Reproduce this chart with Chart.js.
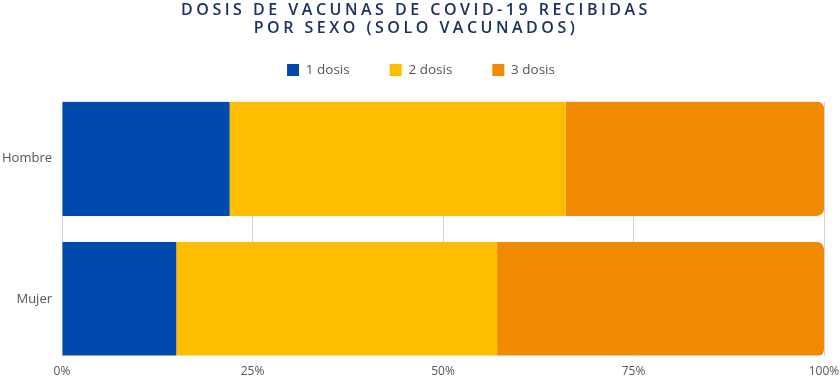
<!DOCTYPE html>
<html>
<head>
<meta charset="utf-8">
<script src="https://cdn.jsdelivr.net/npm/chart.js@4.4.1/dist/chart.umd.min.js"></script>
<style>
  html, body { margin: 0; padding: 0; background: #ffffff; }
  #wrap { width: 840px; height: 378px; }
</style>
</head>
<body>
<div id="wrap"><canvas id="c" width="840" height="378"></canvas></div>
<script>
const categories = ['Hombre', 'Mujer'];
const seriesNames = ['1 dosis', '2 dosis', '3 dosis'];
const dosis1 = [22.0, 15.0];
const dosis2 = [44.1, 42.1];
const dosis3 = [33.9, 42.9];
const xTicks = [0, 25, 50, 75, 100];
const titleLines = ['DOSIS DE VACUNAS DE COVID-19 RECIBIDAS', 'POR SEXO (SOLO VACUNADOS)'];

const colors = ['#004AAD', '#FFBD00', '#F08A00'];
const toPoints = arr => arr.map((v, i) => ({ x: v, y: i }));

const layoutTweaks = {
  id: 'layoutTweaks',
  afterInit(chart) {
    const tb = chart.titleBlock;
    if (tb) {
      const origDraw = tb.draw;
      tb.draw = function () {
        const ctx = chart.ctx;
        ctx.save();
        ctx.letterSpacing = '3.5px';
        origDraw.apply(this, arguments);
        ctx.restore();
      };
    }
    const lg = chart.legend;
    if (lg) {
      const origFit = lg.fit;
      lg.fit = function () {
        origFit.apply(this, arguments);
        this.height += 15;
      };
    }
  },
  afterLayout(chart) {
    const lg = chart.legend;
    if (lg) { lg.left += 5; lg.right += 5; }
  }
};

new Chart(document.getElementById('c'), {
  type: 'bar',
  data: {
    datasets: [
      { label: seriesNames[0], data: toPoints(dosis1), backgroundColor: colors[0], borderWidth: 0, stack: 's' },
      { label: seriesNames[1], data: toPoints(dosis2), backgroundColor: colors[1], borderWidth: 0, stack: 's' },
      { label: seriesNames[2], data: toPoints(dosis3), backgroundColor: colors[2], borderWidth: 0, stack: 's', borderRadius: 7, borderSkipped: 'start' }
    ]
  },
  plugins: [layoutTweaks],
  options: {
    indexAxis: 'y',
    responsive: false,
    animation: false,
    devicePixelRatio: 1,
    layout: { padding: { top: 15, left: -8, right: 0, bottom: -10 } },
    datasets: { bar: { categoryPercentage: 1, barPercentage: 0.814 } },
    plugins: {
      title: {
        display: true,
        text: titleLines,
        color: '#1B3160',
        font: { family: 'Open Sans', size: 16, weight: '600', lineHeight: 1.15 },
        padding: { top: -14, bottom: -14.5 }
      },
      legend: {
        display: true,
        labels: {
          color: '#555555',
          font: { family: 'Open Sans', size: 13.5 },
          boxWidth: 12,
          boxHeight: 12,
          padding: 40
        }
      },
      tooltip: { enabled: false }
    },
    scales: {
      x: {
        type: 'linear',
        stacked: true,
        min: 0,
        max: 100,
        afterBuildTicks: s => { s.ticks = xTicks.map(v => ({ value: v })); },
        afterFit: s => { s.paddingRight = 16; s.paddingLeft = 0; },
        ticks: {
          color: '#555555',
          font: { family: 'Open Sans', size: 12 },
          padding: 9,
          callback: v => v + '%'
        },
        grid: { color: '#D3D3D3', drawTicks: false, lineWidth: 1 },
        border: { display: false }
      },
      y: {
        type: 'linear',
        reverse: true,
        offset: false,
        min: -0.405,
        max: 1.401,
        ticks: {
          stepSize: 1,
          includeBounds: false,
          color: '#555555',
          font: { family: 'Open Sans', size: 13 },
          padding: 10,
          callback: v => (Number.isInteger(v) && categories[v] !== undefined) ? categories[v] : ''
        },
        grid: { display: false, drawTicks: false },
        border: { display: false }
      }
    }
  }
});
</script>
</body>
</html>
